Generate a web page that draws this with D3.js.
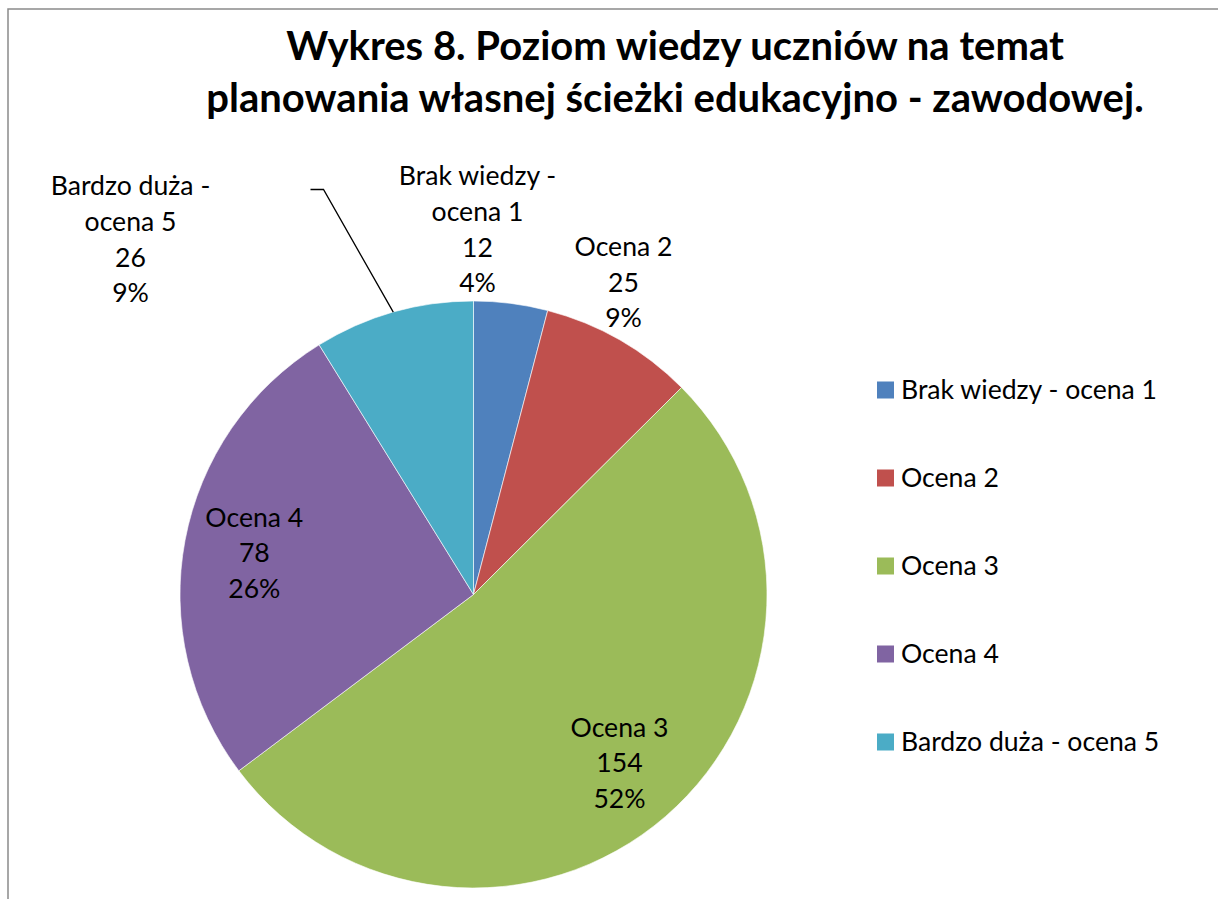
<!DOCTYPE html>
<html>
<head>
<meta charset="utf-8">
<script src="https://cdn.jsdelivr.net/npm/d3@7"></script>
<style>
  html, body { margin: 0; padding: 0; background: #fff; }
  svg text { font-family: Lato, "Open Sans", sans-serif; fill: #000; }
</style>
</head>
<body>
<div id="chart"></div>
<script>
// chart data
var titleLines = ["Wykres 8. Poziom wiedzy uczniów na temat",
                  "planowania własnej ścieżki edukacyjno - zawodowej."];
var categories = ["Brak wiedzy - ocena 1", "Ocena 2", "Ocena 3", "Ocena 4", "Bardzo duża - ocena 5"];
var labelNames = [["Brak wiedzy -", "ocena 1"], ["Ocena 2"], ["Ocena 3"], ["Ocena 4"], ["Bardzo duża -", "ocena 5"]];
var values = [12, 25, 154, 78, 26];
var percents = ["4%", "9%", "52%", "26%", "9%"];
var colors = ["#4F81BD", "#C0504D", "#9BBB59", "#8064A2", "#4BACC6"];

var width = 1218,
    height = 899;

var cx = 473.5, cy = 594.5, radius = 293.5;
var labelSize = "26.6px";

var svg = d3.select("#chart").append("svg")
    .attr("width", width)
    .attr("height", height);

// chart frame (cut off at right and bottom like the reference)
svg.append("rect")
    .attr("x", 8).attr("y", 9)
    .attr("width", 1400).attr("height", 1200)
    .attr("fill", "none")
    .attr("stroke", "#8a8a8a")
    .attr("stroke-width", 1.5);

// title
svg.append("g").selectAll("text")
    .data(titleLines)
    .enter().append("text")
    .attr("x", 675)
    .attr("y", function(d, i) { return 60 + i * 52; })
    .attr("text-anchor", "middle")
    .style("font-weight", "bold")
    .style("font-size", "40px")
    .text(function(d) { return d; });

var pie = d3.pie().sort(null).value(function(d) { return d; });
var arcs = pie(values);
var arc = d3.arc().innerRadius(0).outerRadius(radius);

var g = svg.append("g").attr("transform", "translate(" + cx + "," + cy + ")");

g.selectAll("path")
    .data(arcs)
    .enter().append("path")
    .attr("d", arc)
    .attr("fill", function(d, i) { return colors[i]; })
    .attr("stroke", "rgba(255,255,255,0.6)")
    .attr("stroke-width", 1);

// label placement, relative to pie centre (Excel "best fit" look)
var lineH = 35.6;
function labelCenter(d, i) {
    if (i == 0) return [4, -365];
    if (i == 1) return [150, -312];
    if (i == 4) return [-343, -355];
    var c = d3.arc().innerRadius(0).outerRadius(radius * 1.52).centroid(d);
    return c;
}

arcs.forEach(function(d, i) {
    var lines = labelNames[i].concat([String(values[i]), percents[i]]);
    var c = labelCenter(d, i);
    var top = c[1] - (lines.length - 1) * lineH / 2;
    g.append("g").selectAll("text")
        .data(lines)
        .enter().append("text")
        .attr("x", c[0])
        .attr("y", function(t, j) { return top + j * lineH; })
        .attr("dy", "0.35em")
        .attr("text-anchor", "middle")
        .style("font-size", labelSize)
        .text(function(t) { return t; });
});

// leader line for the last slice
var last = arcs[4];
var edge = d3.arc().innerRadius(radius).outerRadius(radius).centroid(last);
var lc = labelCenter(last, 4);
g.append("polyline")
    .attr("points", [[lc[0] + 180, -405], [lc[0] + 193, -405], edge].map(function(p) { return p.join(","); }).join(" "))
    .attr("fill", "none")
    .attr("stroke", "#000")
    .attr("stroke-width", 1.3);

// legend
var legend = svg.append("g").attr("transform", "translate(877,390)");
var item = legend.selectAll("g")
    .data(categories)
    .enter().append("g")
    .attr("transform", function(d, i) { return "translate(0," + (i * 88) + ")"; });
item.append("rect")
    .attr("x", 0).attr("y", -8.5)
    .attr("width", 17).attr("height", 17)
    .attr("fill", function(d, i) { return colors[i]; });
item.append("text")
    .attr("x", 24)
    .attr("dy", "0.35em")
    .style("font-size", labelSize)
    .text(function(d) { return d; });
</script>
</body>
</html>
